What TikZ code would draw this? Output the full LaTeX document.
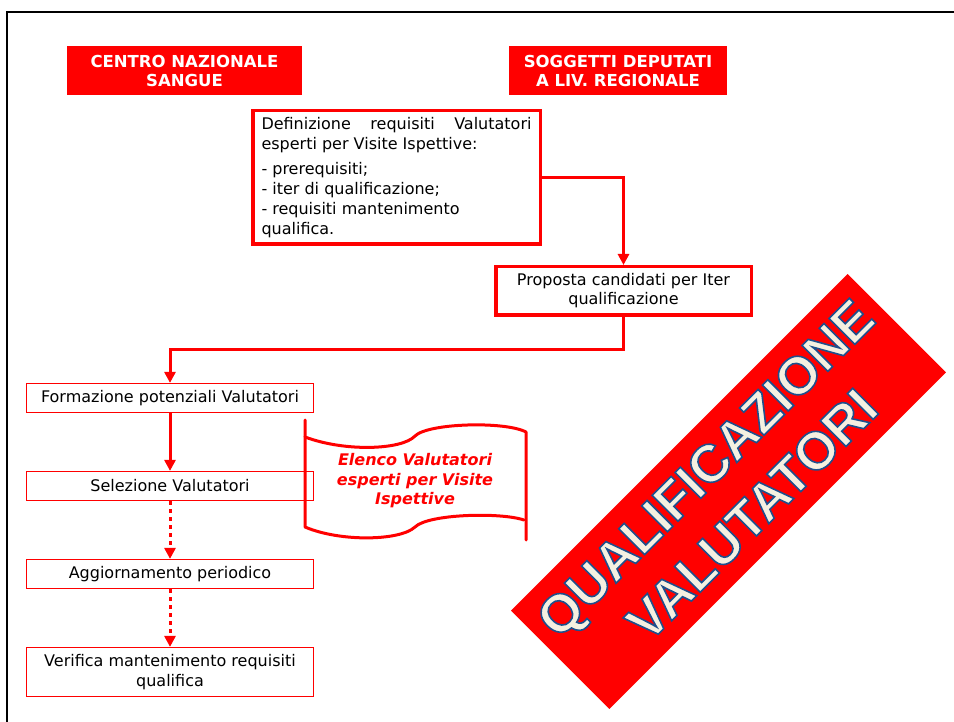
\documentclass[tikz,border=0pt]{standalone}
\usepackage{fontspec}
\setmainfont{DejaVu Sans}
\newfontfamily\bannerfont{Liberation Sans}
\usepackage{xcolor}
\usetikzlibrary{arrows.meta}
\definecolor{cream}{HTML}{F5F0E1}
\definecolor{edgeblue}{HTML}{1F4E8C}
% outlined letters: filled in the current colour, stroked in blue
\newcommand{\outlined}[1]{\special{pdf:literal direct 2 Tr 1.6 w 0.12 0.31 0.55 RG}#1\special{pdf:literal direct 0 Tr}}

\begin{document}
\begin{tikzpicture}[x=1pt,y=-1pt,
  header/.style={fill=red, text=white, font=\bfseries\fontsize{16.5}{19}\selectfont, align=center, minimum height=49pt, inner sep=0pt},
  thickbox/.style={draw=red, line width=3.5pt, fill=white, font=\fontsize{16}{20}\selectfont},
  thinbox/.style={draw=red, line width=1.2pt, fill=white, minimum width=287pt, minimum height=29pt, inner sep=0pt, align=center, font=\fontsize{16}{19.5}\selectfont},
  flow/.style={red, line width=3pt, -{Triangle[length=11pt,width=11pt]}},
  dotflow/.style={flow, dash pattern=on 4pt off 4pt}]

\useasboundingbox (0,0) rectangle (954,722);

% frame
\draw[black, line width=2.5pt] (7,722) -- (7,12) -- (954,12);

\node[header, minimum width=235pt] (cns) at (184.5,70.5) {CENTRO NAZIONALE\\SANGUE};
\node[header, minimum width=218pt] (sdr) at (618,70.5) {SOGGETTI DEPUTATI\\A LIV. REGIONALE};

\node[thickbox, text width=270pt, inner xsep=8.75pt, minimum height=133.5pt, align=justify] (defi) at (396.5,177.5)
  {\hyphenpenalty=10000\exhyphenpenalty=10000
  Definizione requisiti Valutatori esperti per Visite Ispettive:\par\vspace{5pt}
  - prerequisiti;\\- iter di qualificazione;\\- requisiti mantenimento\\qualifica.};

\node[thickbox, minimum width=255.5pt, minimum height=48.5pt, inner sep=0pt, align=center, font=\fontsize{16}{19}\selectfont] (prop) at (623.5,291)
  {Proposta candidati per Iter\\qualificazione};

\node[thinbox] (form) at (170,398) {Formazione potenziali Valutatori};
\node[thinbox] (sel) at (170,486) {Selezione Valutatori};
\node[thinbox] (agg) at (170,574) {Aggiornamento periodico};
\node[thinbox, minimum height=49pt] (ver) at (170,672) {Verifica mantenimento requisiti\\qualifica};

\draw[flow] (defi.east) -| (prop.north);
\draw[flow] (prop.south) -- ++(0,33) -| (form.north);
\draw[flow] (form) -- (sel);
\draw[dotflow] (sel) -- (agg);
\draw[dotflow] (agg) -- (ver);

% document shape
\draw[red, line width=3pt, line cap=round, line join=round]
  (305,420) -- (305,527)
  .. controls (340,542) and (400,541) .. (415,527)
  .. controls (428,514) and (500,512) .. (524,520);
\draw[red, line width=3pt, line cap=round, line join=round]
  (305,437) .. controls (345,452) and (402,450) .. (415,436)
  .. controls (428,423) and (505,421) .. (526,432) -- (526,540);
\node[text=red, align=center, font=\bfseries\itshape\fontsize{16}{19.5}\selectfont] (elenco) at (415,481)
  {Elenco Valutatori\\esperti per Visite\\Ispettive};

% banner
\node[fill=red, rotate=45, minimum width=476pt, minimum height=139pt, inner sep=0pt, align=center, text=cream,
  font=\bannerfont\bfseries\fontsize{53}{66}\selectfont] (qv) at (728.5,491.5)
  {\outlined{QUALIFICAZIONE}\\\outlined{VALUTATORI}};

\end{tikzpicture}
\end{document}
